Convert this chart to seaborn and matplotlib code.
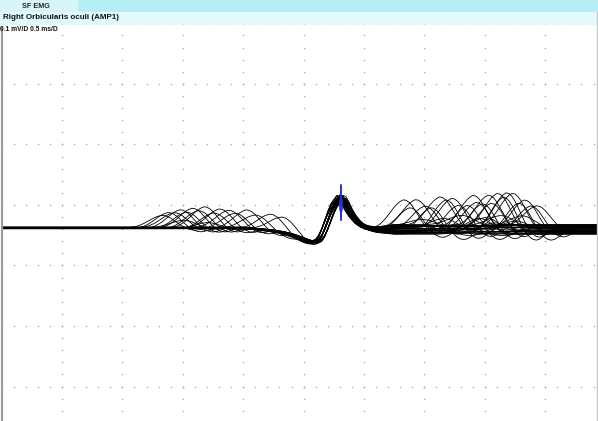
import numpy as np
import pandas as pd
import matplotlib
matplotlib.use("Agg")
import matplotlib.pyplot as plt
from matplotlib.patches import Rectangle
import seaborn as sns

# sweep timing (ms)
SAMPLE_MS = 0.025
N_SAMPLES = 199
T_START = -0.5
BASELINE_MV = -0.038

# averaged single-fibre potential, mV, starting at sample 80
MUP_START = 80
main_mup = [0, -0.0005, -0.0008, -0.0012, -0.0017, -0.002, -0.0025, -0.003, -0.0035,
            -0.0041, -0.0048, -0.0056, -0.0064, -0.0074, -0.0086, -0.0099, -0.0114,
            -0.0131, -0.0149, -0.0169, -0.0188, -0.0208, -0.0225, -0.0235, -0.0231,
            -0.0207, -0.0132, -0.0017, 0.0116, 0.0248, 0.0364, 0.043, 0.0496, 0.0479,
            0.0397, 0.0298, 0.0215, 0.0149, 0.0091, 0.005, 0.002, 0.0, -0.0013,
            -0.0023, -0.003, -0.0033, -0.0033, -0.0033, -0.0033, -0.0033, -0.0033,
            -0.0033, -0.0033]

# shape of the jittering early/late components (peak = 1 at sample 11)
hump_shape = [0, 0.02, 0.06, 0.12, 0.21, 0.32, 0.45, 0.59, 0.73, 0.85, 0.94, 1.0, 0.98,
              0.9, 0.77, 0.6, 0.42, 0.24, 0.08, -0.05, -0.14, -0.2, -0.22, -0.2, -0.14,
              -0.07, -0.02, 0]
HUMP_PEAK = 11

# per-sweep values
left_peak = [53, 55, 57, 59, 61, 63, 65, 67, 70, 72, 75, 77, 81, 84, 89, 93, 0, 0,
             60, 68, 0, 0, 0, 0, 0, 0, 0, 0, 0, 0, 0, 0, 0, 0, 0, 0]
left_amp = [0.020, 0.026, 0.024, 0.030, 0.027, 0.032, 0.029, 0.034, 0.026, 0.031,
            0.028, 0.025, 0.030, 0.023, 0.027, 0.024, 0, 0, 0.012, 0.010, 0, 0, 0, 0,
            0, 0, 0, 0, 0, 0, 0, 0, 0, 0, 0, 0]
right_peak = [133, 135, 137, 140, 142, 145, 147, 149, 151, 154, 156, 157, 159, 161, 162,
              164, 166, 167, 169, 171, 173, 175, 177, 152, 144, 160, 168, 139, 158, 150,
              165, 170, 155, 146, 163, 172]
right_amp = [0.045, 0.040, 0.043, 0.038, 0.043, 0.046, 0.052, 0.048, 0.042, 0.046,
             0.051, 0.044, 0.047, 0.050, 0.045, 0.055, 0.058, 0.060, 0.054, 0.050,
             0.047, 0.042, 0.034, 0.015, 0.012, 0.018, 0.014, 0.010, 0.020, 0.012,
             0.016, 0.013, 0.010, 0.015, 0.012, 0.017]
tail_offset = [0.004, -0.003, 0.006, 0.001, -0.005, 0.008, -0.002, 0.003, 0.0, -0.006,
               0.005, 0.002, -0.004, 0.007, -0.001, 0.004, -0.003, 0.001, 0.006, -0.005,
               0.002, -0.002, 0.005, 0.009, -0.007, 0.003, -0.004, 0.006, 0.0, -0.003,
               0.008, 0.001, -0.006, 0.004, -0.001, 0.007]
pre_offset = [0.0008, -0.0006, 0.0012, 0.0, -0.001, 0.0005, -0.0004, 0.0009, -0.0012,
              0.0003, 0.0011, -0.0008, 0.0, 0.0006, -0.0003, 0.0013, -0.0009, 0.0002,
              0.0007, -0.0011, 0.0004, -0.0005, 0.001, -0.0002, 0.0008, -0.0007, 0.0001,
              0.0012, -0.001, 0.0005, -0.0004, 0.0009, -0.0013, 0.0003, 0.0006, -0.0006]
main_scale = [1.0, 0.95, 1.05, 0.9, 1.1, 0.98, 1.02, 0.93, 1.08, 0.96, 1.04, 0.91, 1.0,
              1.06, 0.94, 0.99, 1.03, 0.97, 1.07, 0.92, 1.01, 0.95, 1.05, 0.9, 1.09,
              0.98, 1.02, 0.94, 1.0, 1.06, 0.96, 1.03, 0.93, 1.08, 0.99, 1.01]
main_shift = [0, 1, 0, -1, 0, 1, 0, 0, -1, 1, 0, 0, 1, -1, 0, 0, 1, 0, -1, 0, 1, 0, 0,
              -1, 0, 1, 0, 0, -1, 0, 1, 0, 0, 1, -1, 0]

# cursor on the triggering peak
cursor_ms = 2.31
cursor_mv = (-0.025, 0.033)


def build_sweeps():
    t = T_START + SAMPLE_MS * np.arange(N_SAMPLES)
    mup = np.array(main_mup)
    hump = np.array(hump_shape)
    ramp = np.clip((t - 2.45) / 0.3, 0, 1)
    frames = []
    for k in range(len(main_scale)):
        y = np.full(N_SAMPLES, pre_offset[k])
        s = MUP_START + main_shift[k]
        y[s:s + len(mup)] += mup * main_scale[k]
        y[s + len(mup):] += mup[-1] * main_scale[k]
        y += tail_offset[k] * ramp
        for pk, amp in ((left_peak[k], left_amp[k]), (right_peak[k], right_amp[k])):
            if amp:
                a = pk - HUMP_PEAK
                y[a:a + len(hump)] += hump * amp
        frames.append(pd.DataFrame({"t": t, "mv": BASELINE_MV + y, "sweep": k}))
    return pd.concat(frames, ignore_index=True)


df = build_sweeps()

sns.set_style("white")
plt.rcParams["font.family"] = ["Liberation Sans", "DejaVu Sans"]

W, H = 598, 421
fig = plt.figure(figsize=(W / 100, H / 100), dpi=100, facecolor="white")
ax = fig.add_axes([0, 0, 1, (H - 24) / H])
ax.set_xlim(-0.513, 4.437)
ax.set_ylim(-0.357, 0.299)
ax.axis("off")

# dotted division grid: 0.5 ms/D and 0.1 mV/D, 5 dots per division
grid_kw = dict(marker="+", s=4, linewidths=0.45, color="#b4b4b4", zorder=1)
sub_y = np.arange(-0.36, 0.301, 0.02)
sub_x = np.arange(-0.5, 4.45, 0.1)
for gx in np.arange(0.0, 4.45, 0.5):
    ax.scatter(np.full(sub_y.size, gx), sub_y, **grid_kw)
for gy in np.arange(-0.3, 0.301, 0.1):
    ax.scatter(sub_x, np.full(sub_x.size, gy), **grid_kw)

sns.lineplot(data=df, x="t", y="mv", units="sweep", estimator=None, color="black",
             lw=0.6, ax=ax, legend=False, zorder=3)

ax.plot([cursor_ms, cursor_ms], cursor_mv, color="#2233dd", lw=1.4, zorder=4)
ax.plot([cursor_ms, cursor_ms], [-0.008, 0.006], color="#2233dd", lw=2.6, zorder=4)

# window frame lines
fig.add_artist(plt.Line2D([2 / W, 2 / W], [0, 1 - 28 / H], color="#9a9a9a", lw=1.5))
fig.add_artist(plt.Line2D([597 / W, 597 / W], [0, 1 - 12 / H], color="#c8c8c8", lw=1))

# header bands
fig.add_artist(Rectangle((0, 1 - 12 / H), 1, 12 / H, transform=fig.transFigure,
                         color="#b6eef6", zorder=0))
fig.add_artist(Rectangle((0, 1 - 12 / H), 77 / W, 12 / H, transform=fig.transFigure,
                         color="#d8f6fa", zorder=0))
fig.add_artist(Rectangle((0, 1 - 24 / H), 1, 12 / H, transform=fig.transFigure,
                         color="#e3fafc", zorder=0))

fig.text(36 / W, 1 - 6.5 / H, "SF EMG", fontsize=5.2, fontweight="bold", color="#222222",
         ha="center", va="center")
fig.text(3 / W, 1 - 17.5 / H, "Right Orbicularis oculi (AMP1)", fontsize=5.8,
         fontweight="bold", color="#111111", ha="left", va="center")
fig.text(0.5 / W, 1 - 29.5 / H, "0.1 mV/D 0.5 ms/D", fontsize=4.8, fontweight="bold",
         color="#111111", ha="left", va="center")

fig.savefig("out.png", dpi=100, facecolor="white")
